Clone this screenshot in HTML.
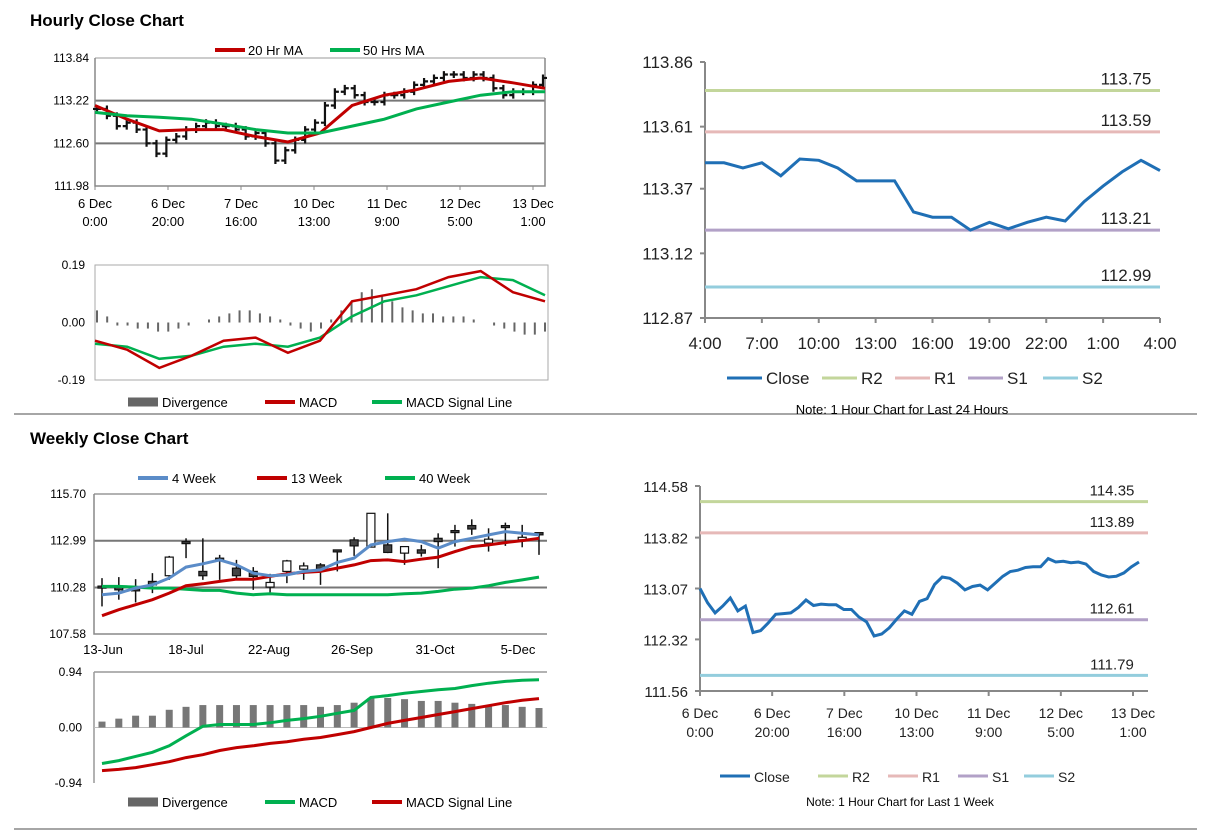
<!DOCTYPE html>
<html><head><meta charset="utf-8"><style>
body{margin:0;background:#fff;width:1212px;height:834px;overflow:hidden;font-family:"Liberation Sans",sans-serif}
svg{display:block}
</style></head><body>
<svg id="c" width="1212" height="834" xmlns="http://www.w3.org/2000/svg" font-family="Liberation Sans, sans-serif">
<text x="30" y="26" font-size="17" font-weight="bold">Hourly Close Chart</text>
<text x="30" y="444" font-size="17" font-weight="bold">Weekly Close Chart</text>
<line x1="14" y1="414" x2="1197" y2="414" stroke="#888" stroke-width="1.5"/>
<line x1="14" y1="829" x2="1197" y2="829" stroke="#888" stroke-width="1.5"/>
<g id="g"></g>
</svg>
<script>
// ---------- data ----------
const hCloses=[113.10,113.0,112.85,112.9,112.8,112.6,112.45,112.65,112.7,112.8,112.85,112.9,112.85,112.85,112.8,112.7,112.75,112.6,112.35,112.5,112.65,112.8,112.9,113.15,113.35,113.4,113.3,113.2,113.2,113.3,113.3,113.35,113.45,113.5,113.55,113.6,113.6,113.55,113.6,113.55,113.4,113.3,113.35,113.35,113.45,113.55];
const hMA20=[113.15,112.95,112.78,112.8,112.8,112.7,112.62,112.75,113.15,113.3,113.38,113.5,113.55,113.48,113.4];
const hMA50=[113.05,113.0,112.98,112.95,112.88,112.8,112.75,112.75,112.85,112.95,113.1,113.2,113.3,113.35,113.35];
const hXLabels=[["6 Dec","0:00"],["6 Dec","20:00"],["7 Dec","16:00"],["10 Dec","13:00"],["11 Dec","9:00"],["12 Dec","5:00"],["13 Dec","1:00"]];
const hYTicks=[113.84,113.22,112.60,111.98];
const hDiv=[0.04,0.02,-0.01,-0.01,-0.02,-0.02,-0.03,-0.03,-0.02,-0.01,0,0.01,0.02,0.03,0.04,0.04,0.03,0.02,0.01,-0.01,-0.02,-0.03,-0.02,0.01,0.04,0.07,0.1,0.11,0.09,0.07,0.05,0.04,0.03,0.03,0.02,0.02,0.02,0.01,0,-0.01,-0.02,-0.03,-0.04,-0.04,-0.03];
const hMacd=[-0.06,-0.09,-0.15,-0.11,-0.06,-0.05,-0.1,-0.06,0.07,0.09,0.11,0.15,0.17,0.1,0.07];
const hSignal=[-0.07,-0.08,-0.12,-0.11,-0.08,-0.07,-0.08,-0.05,0.02,0.07,0.09,0.12,0.15,0.14,0.09];
const dayClose=[113.47,113.47,113.45,113.47,113.42,113.485,113.48,113.45,113.40,113.40,113.40,113.28,113.26,113.26,113.21,113.24,113.215,113.24,113.26,113.245,113.32,113.38,113.435,113.48,113.44];
const dayXLabels=["4:00","7:00","10:00","13:00","16:00","19:00","22:00","1:00","4:00"];
const dayYTicks=[113.86,113.61,113.37,113.12,112.87];
const dayLevels=[113.75,113.59,113.21,112.99];
const wOpen=[110.30,110.30,110.14,110.63,110.96,112.88,111.21,111.92,111.40,111.21,110.30,111.21,111.34,111.59,112.40,113.04,112.62,112.75,112.27,112.46,113.13,113.52,113.87,112.85,113.81,113.04,113.46];
const wClose=[110.30,110.14,110.14,110.43,112.04,112.88,110.96,111.92,110.96,110.92,110.57,111.82,111.53,111.34,112.40,112.69,114.58,112.31,112.65,112.27,112.94,113.52,113.67,113.08,113.81,113.19,113.33];
const wHigh=[110.82,110.88,110.76,111.11,112.11,113.13,113.13,112.17,111.88,111.46,111.07,111.88,111.73,111.69,112.46,113.19,114.58,114.58,112.65,112.75,113.42,113.91,114.23,113.71,114.04,113.91,113.46];
const wLow=[109.18,109.57,109.41,109.95,110.72,111.98,110.72,110.72,110.82,110.14,109.99,110.53,110.72,110.43,111.21,112.11,112.85,112.27,111.59,112.07,111.40,112.65,113.33,112.36,112.69,112.61,112.17];
const w4=[109.86,109.95,110.24,110.43,110.82,111.46,111.65,111.88,111.59,111.11,110.96,111.01,111.21,111.30,111.73,111.98,112.75,112.94,113.08,112.94,112.56,112.94,113.13,113.33,113.52,113.42,113.33];
const w13=[108.64,108.99,109.28,109.57,109.95,110.38,110.49,110.63,110.76,110.76,110.92,111.07,111.15,111.21,111.40,111.59,111.84,111.88,111.78,111.92,112.04,112.36,112.65,112.75,112.88,113.00,113.13];
const w40=[110.34,110.34,110.30,110.24,110.24,110.18,110.11,110.11,109.95,109.86,109.91,109.86,109.86,109.86,109.86,109.86,109.86,109.86,109.91,109.95,110.05,110.18,110.24,110.38,110.57,110.72,110.88];
const wXLabels=["13-Jun","18-Jul","22-Aug","26-Sep","31-Oct","5-Dec"];
const wYTicks=[115.70,112.99,110.28,107.58];
const wDiv=[0.1,0.15,0.2,0.2,0.3,0.35,0.38,0.38,0.38,0.38,0.38,0.38,0.38,0.35,0.38,0.42,0.5,0.5,0.48,0.45,0.45,0.42,0.4,0.38,0.38,0.35,0.33];
const wMacd=[-0.61,-0.56,-0.49,-0.42,-0.31,-0.14,0.02,0.05,0.05,0.05,0.08,0.12,0.15,0.19,0.24,0.29,0.51,0.54,0.58,0.61,0.64,0.66,0.71,0.75,0.78,0.80,0.81];
const wSignal=[-0.73,-0.71,-0.68,-0.63,-0.58,-0.51,-0.46,-0.39,-0.34,-0.31,-0.27,-0.24,-0.20,-0.17,-0.12,-0.07,0,0.07,0.12,0.17,0.22,0.27,0.32,0.37,0.42,0.46,0.49];
const wkClose=[113.07,112.86,112.71,112.81,112.93,112.74,112.81,112.42,112.45,112.56,112.69,112.70,112.71,112.79,112.90,112.82,112.84,112.83,112.83,112.76,112.76,112.65,112.58,112.37,112.40,112.49,112.62,112.74,112.69,112.88,112.92,113.13,113.24,113.22,113.15,113.05,113.10,113.12,113.05,113.15,113.25,113.32,113.34,113.38,113.39,113.39,113.51,113.46,113.47,113.45,113.46,113.43,113.32,113.27,113.24,113.25,113.30,113.39,113.46];
const wkYTicks=[114.58,113.82,113.07,112.32,111.56];
const wkLevels=[114.35,113.89,112.61,111.79];
const levelColors=["#c3d69b","#e6b9b8","#b2a1c7","#93cddd"];

// ---------- helpers ----------
const NS="http://www.w3.org/2000/svg",G=document.getElementById('g');
function mk(tag,at,txt){const e=document.createElementNS(NS,tag);for(const k in at)e.setAttribute(k,at[k]);if(txt!==undefined)e.textContent=txt;G.appendChild(e);return e;}
function lin(d0,d1,r0,r1){return v=>r0+(v-d0)/(d1-d0)*(r1-r0);}
function pathOf(arr,x,y){return arr.map((v,i)=>(i?'L':'M')+x(i).toFixed(1)+' '+y(v).toFixed(1)).join(' ');}
function fmt(v){return v.toFixed(2);}

// ===== hourly price =====
{const L=95,R=545,T=58,B=186;const y=lin(111.98,113.84,B,T);
hYTicks.forEach(t=>{const e=mk('text',{x:L-6,y:y(t)+4,'font-size':12,'text-anchor':'end'},fmt(t));
 if(t!==111.98){const l=mk('line',{x1:L,x2:R,y1:y(t),y2:y(t),stroke:t===113.84?'#999':'#777','stroke-width':t===113.84?1:2});}});
const a=mk('path',{d:`M${L} ${T} V${B} H${R} V${T}`,fill:'none',stroke:'#888','stroke-width':1.5});
const xs=lin(0,6,95,533);hXLabels.forEach((lb,i)=>{const e=mk('text',{x:xs(i),y:208,'font-size':13,'text-anchor':'middle'});
 const t1=mk('tspan',{x:xs(i),dy:0},lb[0]);e.appendChild(t1);const t2=mk('tspan',{x:xs(i),dy:18},lb[1]);e.appendChild(t2);
 const tk=mk('line',{x1:xs(i),x2:xs(i),y1:B,y2:B+4,stroke:'#888'});});
const x=lin(0,hCloses.length-1,97,543);
hCloses.forEach((c,i)=>{const o=i?hCloses[i-1]:c;const hi=Math.max(o,c)+0.05,lo=Math.min(o,c)-0.05;const px=x(i);
 const b=mk('path',{d:`M${px} ${y(hi)} V${y(lo)} M${px-4} ${y(o)} H${px} M${px} ${y(c)} H${px+4}`,stroke:'#111','stroke-width':2.2,fill:'none'});});
const xm=lin(0,hMA20.length-1,95,545);
const p1=mk('path',{d:pathOf(hMA20,xm,y),fill:'none',stroke:'#c00000','stroke-width':3});
const p2=mk('path',{d:pathOf(hMA50,xm,y),fill:'none',stroke:'#00b050','stroke-width':3});
[[215,'#c00000','20 Hr MA'],[330,'#00b050','50 Hrs MA']].forEach(l=>{const s=mk('line',{x1:l[0],x2:l[0]+30,y1:50,y2:50,stroke:l[1],'stroke-width':4});
 const t=mk('text',{x:l[0]+33,y:55,'font-size':13},l[2]);});}

// ===== hourly macd =====
{const L=95,R=548,T=265,B=380;const y=lin(-0.19,0.19,B,T);
[0.19,0,-0.19].forEach(t=>{const e=mk('text',{x:L-10,y:y(t)+4,'font-size':12,'text-anchor':'end'},fmt(t));});
const a=mk('path',{d:`M${L} ${T} V${B} H${R} V${T} Z`,fill:'none',stroke:'#aaa','stroke-width':1});
const xd=lin(0,hDiv.length-1,97,545);hDiv.forEach((v,i)=>{const b=mk('line',{x1:xd(i),x2:xd(i),y1:y(0),y2:y(v),stroke:'#666','stroke-width':2});});
const x=lin(0,hMacd.length-1,95,545);
const p2=mk('path',{d:pathOf(hSignal,x,y),fill:'none',stroke:'#00b050','stroke-width':2.5});
const p1=mk('path',{d:pathOf(hMacd,x,y),fill:'none',stroke:'#c00000','stroke-width':2.5});
[[128,'#666','Divergence',1],[265,'#c00000','MACD',0],[372,'#00b050','MACD Signal Line',0]].forEach(l=>{const s=mk('line',{x1:l[0],x2:l[0]+30,y1:402,y2:402,stroke:l[1],'stroke-width':l[3]?9:4});
 const t=mk('text',{x:l[0]+34,y:407,'font-size':13},l[2]);});}

// ===== right charts =====
function rightChart(o){const {L,R,T,B,ticks,levels,data,name}=o;const y=lin(ticks[ticks.length-1],ticks[0],B,T);
 ticks.forEach(t=>{const e=mk('text',{x:L-12,y:y(t)+6,'font-size':o.tfs,'text-anchor':'end',fill:'#222'},fmt(t));
  const k=mk('line',{x1:L-5,x2:L,y1:y(t),y2:y(t),stroke:'#888','stroke-width':2});});
 const a=mk('path',{d:`M${L} ${T} V${B} H${R}`,fill:'none',stroke:'#888','stroke-width':2});
 levels.forEach((v,i)=>{const l=mk('line',{x1:L,x2:R,y1:y(v),y2:y(v),stroke:levelColors[i],'stroke-width':3});
  const t=mk('text',{x:o.lvx,y:y(v)-6,'font-size':o.tfs,'text-anchor':'middle',fill:'#222'},fmt(v));});
 const x=lin(0,data.length-1,L,o.dataR);
 const p=mk('path',{d:pathOf(data,x,y),fill:'none',stroke:'#1f6fb5','stroke-width':3});
 const xl=lin(0,o.xlabels.length-1,L,o.xlR);o.xlabels.forEach((lb,i)=>{const k=mk('line',{x1:xl(i),x2:xl(i),y1:B,y2:B+5,stroke:'#888','stroke-width':2});
  if(Array.isArray(lb)){const e=mk('text',{x:xl(i),y:B+27,'font-size':o.xfs,'text-anchor':'middle',fill:'#222'});
   e.appendChild(mk('tspan',{x:xl(i),dy:0},lb[0]));e.appendChild(mk('tspan',{x:xl(i),dy:19},lb[1]));}
  else{const e=mk('text',{x:xl(i),y:B+31,'font-size':o.xfs,'text-anchor':'middle',fill:'#222'},lb);}});
 const items=[['#1f6fb5','Close'],[levelColors[0],'R2'],[levelColors[1],'R1'],[levelColors[2],'S1'],[levelColors[3],'S2']];
 items.forEach((it,i)=>{const lx=o.legX[i];const s=mk('line',{x1:lx,x2:lx+o.sw,y1:o.legY,y2:o.legY,stroke:it[0],'stroke-width':3});
  const t=mk('text',{x:lx+o.sw+4,y:o.legY+6,'font-size':o.lfs,fill:'#222'},it[1]);});
 const n=mk('text',{x:o.noteX,y:o.noteY,'font-size':o.nfs,'text-anchor':'middle'},o.note);}
rightChart({name:'day',L:705,R:1160,T:62,B:318,ticks:dayYTicks,levels:dayLevels,data:dayClose,dataR:1160,lvx:1126,tfs:17,xfs:17,lfs:17,nfs:13,
 xlabels:dayXLabels,xlR:1160,legX:[727,822,895,968,1043],sw:35,legY:378,noteX:902,noteY:414,note:'Note: 1 Hour Chart for Last 24 Hours'});
rightChart({name:'week',L:700,R:1148,T:486,B:691,ticks:wkYTicks,levels:wkLevels,data:wkClose,dataR:1139,lvx:1112,tfs:15,xfs:14,lfs:14,nfs:12,
 xlabels:hXLabels,xlR:1133,legX:[720,818,888,958,1024],sw:30,legY:776,noteX:900,noteY:806,note:'Note: 1 Hour Chart for Last 1 Week'});

// ===== weekly price =====
{const L=94,R=547,T=494,B=634;const y=lin(107.58,115.70,B,T);
wYTicks.forEach(t=>{const e=mk('text',{x:L-8,y:y(t)+4,'font-size':12,'text-anchor':'end'},fmt(t));
 if(t!==107.58){const l=mk('line',{x1:L,x2:R,y1:y(t),y2:y(t),stroke:t===115.70?'#999':'#777','stroke-width':t===115.70?1.5:2});}});
const a=mk('path',{d:`M${L} ${T} V${B} H${R}`,fill:'none',stroke:'#888','stroke-width':1.5});
const xl=lin(0,5,103,518);wXLabels.forEach((lb,i)=>{const e=mk('text',{x:xl(i),y:654,'font-size':13,'text-anchor':'middle'},lb);});
const x=lin(0,wClose.length-1,102,539);
wClose.forEach((c,i)=>{const o=wOpen[i],px=x(i);const w=mk('line',{x1:px,x2:px,y1:y(wHigh[i]),y2:y(wLow[i]),stroke:'#111','stroke-width':1.5});
 const top=y(Math.max(o,c)),h=Math.max(2,Math.abs(y(o)-y(c)));const r=mk('rect',{x:px-4,y:top-(h===2?1:0),width:8,height:h,fill:c>o?'#fff':'#444',stroke:'#111','stroke-width':1.2});});
[[w40,'#00b050','40-week-line'],[w13,'#c00000','13-week-line'],[w4,'#5b8cc8','4-week-line']].forEach(s=>{const p=mk('path',{d:pathOf(s[0],x,y),fill:'none',stroke:s[1],'stroke-width':3});});
[[138,'#5b8cc8','4 Week'],[257,'#c00000','13 Week'],[385,'#00b050','40 Week']].forEach(l=>{const s=mk('line',{x1:l[0],x2:l[0]+30,y1:478,y2:478,stroke:l[1],'stroke-width':4});
 const t=mk('text',{x:l[0]+34,y:483,'font-size':13},l[2]);});}

// ===== weekly macd =====
{const L=94,R=547,T=672,B=783;const y=lin(-0.94,0.94,B,T);
[0.94,0,-0.94].forEach(t=>{const e=mk('text',{x:L-12,y:y(t)+4,'font-size':12,'text-anchor':'end'},fmt(t));});
const a=mk('path',{d:`M${L} ${T} H${R} M${L} ${T} V${B}`,fill:'none',stroke:'#999','stroke-width':1.5});
const z=mk('line',{x1:L,x2:R,y1:y(0),y2:y(0),stroke:'#bbb','stroke-width':1});
const x=lin(0,wMacd.length-1,102,539);
wDiv.forEach((v,i)=>{const r=mk('rect',{x:x(i)-3.5,y:Math.min(y(v),y(0)),width:7,height:Math.abs(y(v)-y(0)),fill:'#777'});});
const p1=mk('path',{d:pathOf(wMacd,x,y),fill:'none',stroke:'#00b050','stroke-width':3});
const p2=mk('path',{d:pathOf(wSignal,x,y),fill:'none',stroke:'#c00000','stroke-width':3});
[[128,'#666','Divergence',1],[265,'#00b050','MACD',0],[372,'#c00000','MACD Signal Line',0]].forEach(l=>{const s=mk('line',{x1:l[0],x2:l[0]+30,y1:802,y2:802,stroke:l[1],'stroke-width':l[3]?9:4});
 const t=mk('text',{x:l[0]+34,y:807,'font-size':13},l[2]);});}
</script>
</body></html>
